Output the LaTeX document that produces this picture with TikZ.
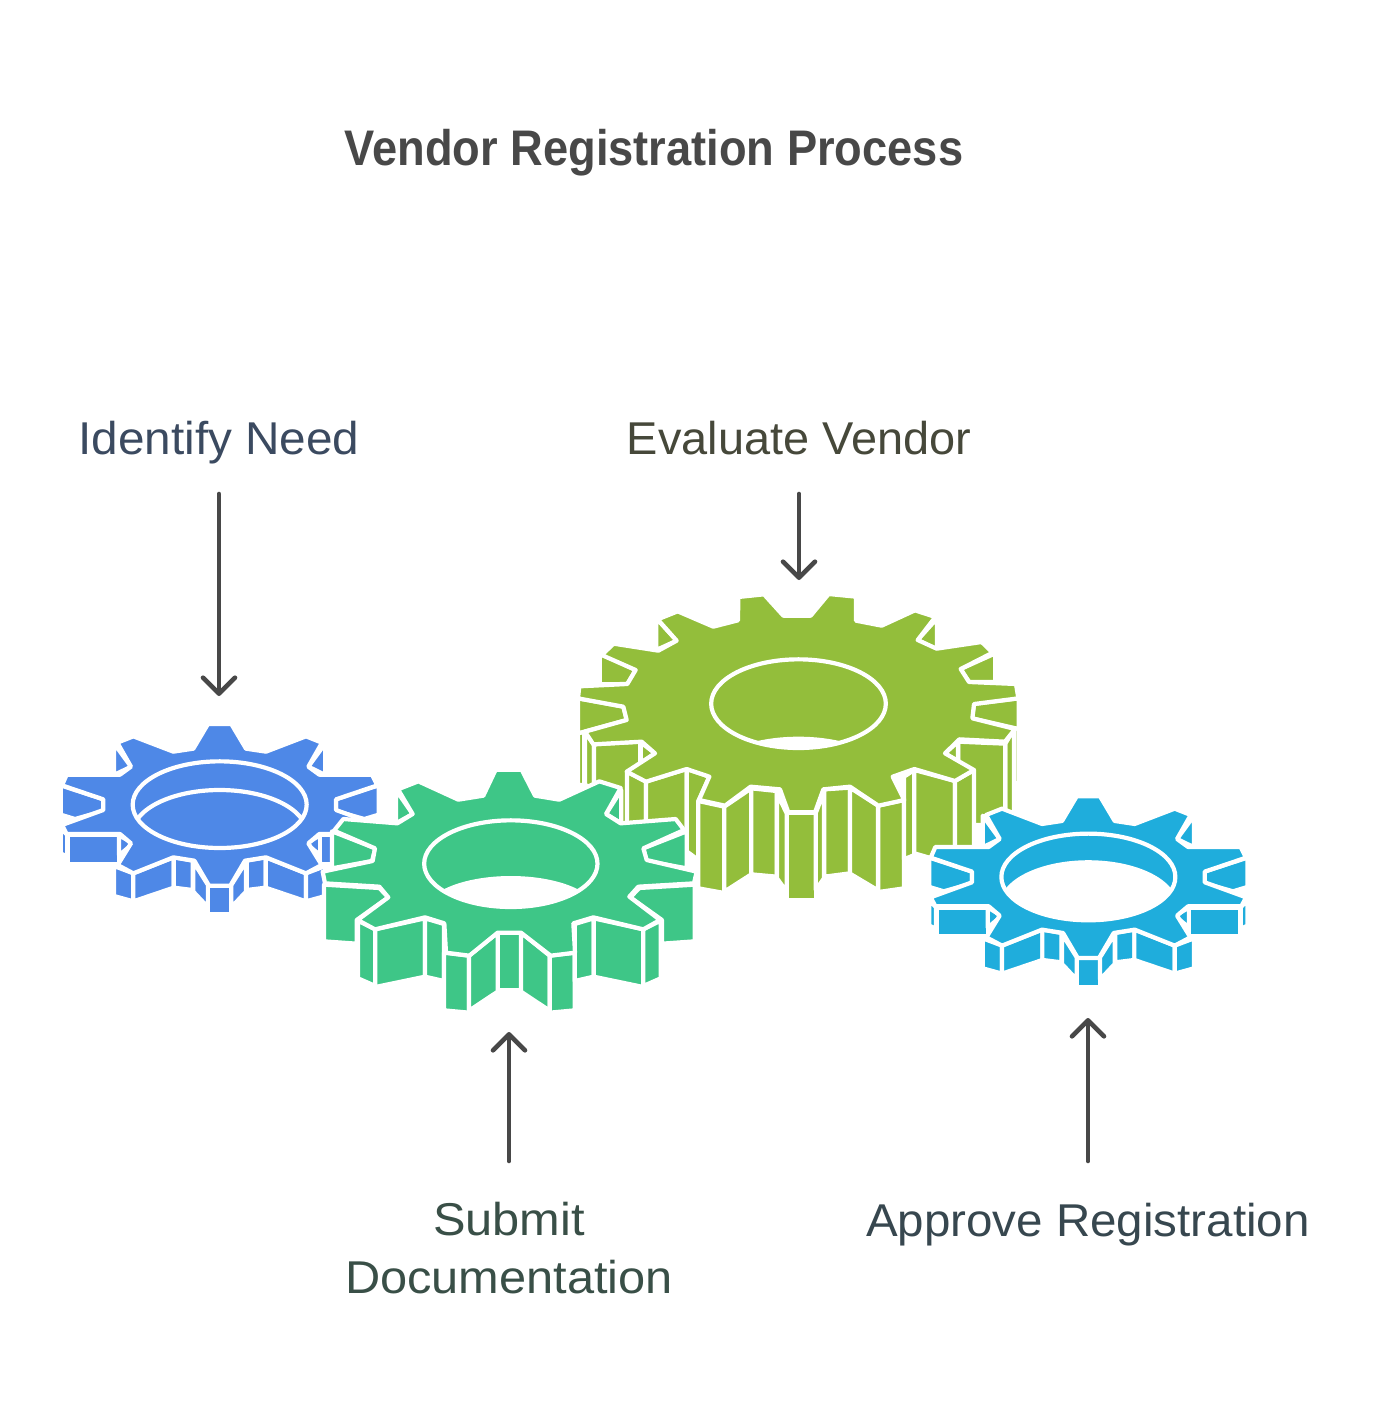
\documentclass[tikz,border=0pt]{standalone}
\usepackage{fontspec}
\setmainfont{Liberation Sans}
\usetikzlibrary{arrows.meta}
\definecolor{cblue}{HTML}{4E88E7}
\definecolor{cgreen}{HTML}{3EC687}
\definecolor{colive}{HTML}{93BE3B}
\definecolor{ccyan}{HTML}{1FADDC}
\definecolor{cdark}{HTML}{484848}
\definecolor{tneedc}{HTML}{3B4A60}
\definecolor{tevalc}{HTML}{46483A}
\definecolor{tsubc}{HTML}{394F47}
\definecolor{tapprc}{HTML}{37474F}
\tikzset{
  gw/.style={draw=white,line width=2.1pt,line join=round,fill=gearcol},
  ring/.style={draw=white,line width=2.1pt},
  flow/.style={draw=cdark,line width=2.3pt,line cap=round,-{Straight Barb[length=8pt,width=16pt,round,line width=2.3pt]}},
  lab/.style={inner sep=0pt,anchor=base,align=center},
}
\newcommand{\labfont}[1]{\fontsize{23}{29}\selectfont\addfontfeature{FakeStretch=#1}}
\newcommand{\smallgear}[1]{%
  \path[gw] (192,468)--(250,490)--(250,574)--(192,558)--cycle;
  \path[gw] (250,490)--(371,442)--(371,533)--(250,574)--cycle;
  \path[gw] (371,442)--(428,452)--(428,540)--(371,533)--cycle;
  \path[gw] (430,455)--(474,525)--(474,592)--(430,545)--cycle;
  \path[gw] (474,527)--(544,527)--(544,613)--(474,613)--cycle;
  \path[gw] (544,525)--(588,455)--(588,545)--(544,592)--cycle;
  \path[gw] (590,452)--(647,442)--(647,533)--(590,540)--cycle;
  \path[gw] (647,442)--(768,490)--(768,574)--(647,533)--cycle;
  \path[gw] (768,490)--(826,468)--(826,558)--(768,574)--cycle;
  \path[gw] (192,100)--(243,170)--(192,195)--cycle;
  \path[gw] (826,100)--(775,170)--(826,195)--cycle;
  \path[gw] (32,226)--(160,268)--(160,303)--(75,327)--(32,314)--cycle;
  \path[gw] (986,226)--(858,268)--(858,303)--(943,327)--(986,314)--cycle;
  \path[gw] (32,355)--(52,375)--(52,440)--(32,430)--cycle;
  \path[gw] (54,376)--(207,376)--(207,461)--(54,461)--cycle;
  \path[gw] (207,376)--(250,400)--(207,436)--cycle;
  \path[gw] (811,376)--(768,400)--(811,436)--cycle;
  \path[gw] (811,376)--(964,376)--(964,461)--(811,461)--cycle;
  \path[gw] (986,355)--(966,375)--(966,440)--(986,430)--cycle;
  \path[gw] (474,42)--(544,42)--(588,116)--(648,125)--(768,79)--(816,98)--(775,170)--(808,194)--(966,194)--(982,226)--(858,268)--(858,300)--(982,345)--(968,372)--(808,372)--(775,400)--(815,465)--(768,490)--(648,442)--(585,452)--(541,527)--(477,527)--(433,452)--(370,442)--(250,490)--(203,465)--(243,400)--(210,372)--(50,372)--(36,345)--(160,300)--(160,268)--(36,226)--(50,194)--(210,194)--(243,170)--(202,98)--(250,79)--(370,125)--(430,116)--cycle;
  \begin{scope}
    \clip (509,284) ellipse [x radius=261,y radius=130];
    \path[draw=white,line width=2.1pt,fill=#1] (509,370) ellipse [x radius=261,y radius=130];
  \end{scope}
  \path[ring] (509,284) ellipse [x radius=261,y radius=130];
}
\begin{document}
\begin{tikzpicture}[x=0.5pt,y=-0.5pt]
\useasboundingbox (0,0) rectangle (1380,1424);
\fill[white] (0,0) rectangle (1380,1424);

% blue gear
\colorlet{gearcol}{cblue}
\begin{scope}[shift={(50,710)},scale=0.33333]
  \smallgear{cblue}
\end{scope}

% olive gear
\colorlet{gearcol}{colive}
\begin{scope}[shift={(570,585)},scale=0.33333]
  \path[gw] (24,445)--(43,440)--(43,600)--(24,600)--cycle;
  \path[gw] (45,440)--(72,480)--(72,610)--(45,600)--cycle;
  \path[gw] (72,478)--(211,470)--(211,720)--(72,720)--cycle;
  \path[gw] (212,472)--(255,505)--(212,535)--cycle;
  \path[gw] (1332,432)--(1346,425)--(1346,595)--(1332,595)--cycle;
  \path[gw] (1306,476)--(1332,432)--(1332,680)--(1306,690)--cycle;
  \path[gw] (1165,470)--(1306,476)--(1306,720)--(1165,720)--cycle;
  \path[gw] (1164,470)--(1125,505)--(1164,530)--cycle;
  \path[gw] (171,560)--(228,590)--(228,740)--(171,820)--cycle;
  \path[gw] (228,590)--(350,552)--(350,799)--(228,837)--cycle;
  \path[gw] (350,552)--(418,575)--(385,648)--(385,825)--(350,799)--cycle;
  \path[gw] (385,648)--(463,665)--(463,924)--(385,910)--cycle;
  \path[gw] (463,665)--(544,610)--(544,868)--(463,920)--cycle;
  \path[gw] (544,610)--(620,618)--(620,875)--(544,868)--cycle;
  \path[gw] (621,625)--(650,685)--(650,920)--(621,880)--cycle;
  \path[gw] (651,685)--(737,685)--(737,944)--(651,944)--cycle;
  \path[gw] (737,685)--(762,620)--(762,880)--(737,915)--cycle;
  \path[gw] (763,613)--(840,608)--(840,865)--(763,875)--cycle;
  \path[gw] (840,608)--(924,662)--(924,916)--(840,866)--cycle;
  \path[gw] (925,662)--(1002,645)--(1002,910)--(925,921)--cycle;
  \path[gw] (1002,575)--(1033,555)--(1033,810)--(1002,823)--cycle;
  \path[gw] (1033,555)--(1155,588)--(1155,840)--(1033,805)--cycle;
  \path[gw] (1155,588)--(1212,555)--(1212,810)--(1155,840)--cycle;
  \path[gw] (1101,100)--(1043,165)--(1101,195)--cycle;
  \path[gw] (259,100)--(320,167)--(259,195)--cycle;
  \path[gw] (1276,205)--(1172,252)--(1197,291)--(1276,291)--cycle;
  \path[gw] (89,205)--(197,255)--(172,297)--(89,298)--cycle;
  \path[gw] (1346,340)--(1346,432)--(1207,400)--(1212,357)--cycle;
  \path[gw] (24,340)--(24,445)--(170,405)--(160,365)--cycle;
  \path[gw] (505,36)--(582,28)--(640,92)--(722,92)--(776,27)--(858,35)--(858,107)--(935,122)--(1035,76)--(1096,96)--(1043,165)--(1100,191)--(1235,171)--(1268,203)--(1172,252)--(1197,291)--(1338,297)--(1345,340)--(1212,357)--(1207,400)--(1335,432)--(1305,470)--(1168,463)--(1125,505)--(1212,555)--(1155,588)--(1033,552)--(968,575)--(1003,645)--(925,662)--(840,605)--(760,613)--(735,682)--(655,682)--(630,613)--(542,605)--(465,662)--(387,645)--(418,575)--(350,552)--(228,590)--(170,560)--(255,505)--(215,470)--(70,478)--(45,440)--(170,405)--(160,365)--(24,340)--(28,304)--(172,297)--(197,255)--(95,210)--(131,176)--(265,197)--(320,167)--(263,103)--(323,79)--(430,125)--(504,106)--cycle;
  \begin{scope}
    \clip (685.5,356) ellipse [x radius=262,y radius=133];
    \fill[white] (685.5,567) ellipse [x radius=262,y radius=112];
  \end{scope}
  \path[ring] (685.5,356) ellipse [x radius=262,y radius=133];
\end{scope}

% green gear
\colorlet{gearcol}{cgreen}
\begin{scope}[shift={(310,760)},scale=0.33333]
  \path[gw] (42,374)--(208,384)--(235,412)--(140,480)--(140,551)--(42,544)--cycle;
  \path[gw] (1154,374)--(988,384)--(961,412)--(1056,480)--(1056,551)--(1154,544)--cycle;
  \path[gw] (66,214)--(196,265)--(186,303)--(66,325)--cycle;
  \path[gw] (1130,214)--(1000,265)--(1010,303)--(1130,325)--cycle;
  \path[gw] (258,90)--(308,162)--(258,190)--cycle;
  \path[gw] (934,90)--(888,162)--(934,190)--cycle;
  \path[gw] (144,482)--(196,508)--(196,678)--(144,655)--cycle;
  \path[gw] (196,508)--(345,475)--(345,650)--(196,681)--cycle;
  \path[gw] (345,475)--(402,492)--(402,663)--(345,650)--cycle;
  \path[gw] (402,578)--(477,587)--(477,758)--(402,751)--cycle;
  \path[gw] (477,587)--(563,518)--(563,695)--(477,752)--cycle;
  \path[gw] (563,518)--(633,518)--(633,691)--(563,691)--cycle;
  \path[gw] (633,518)--(719,587)--(719,752)--(633,695)--cycle;
  \path[gw] (719,587)--(794,578)--(794,751)--(719,758)--cycle;
  \path[gw] (794,492)--(851,475)--(851,650)--(794,663)--cycle;
  \path[gw] (851,475)--(1000,508)--(1000,681)--(851,650)--cycle;
  \path[gw] (1000,508)--(1052,482)--(1052,655)--(1000,678)--cycle;
  \path[gw] (557,29)--(635,29)--(675,107)--(748,119)--(868,64)--(932,84)--(888,162)--(932,190)--(1097,177)--(1122,210)--(1000,265)--(1010,300)--(1160,335)--(1152,370)--(985,380)--(958,410)--(1050,480)--(1000,508)--(850,472)--(790,490)--(795,578)--(722,587)--(633,518)--(563,518)--(478,587)--(408,578)--(403,490)--(345,472)--(195,508)--(143,480)--(235,412)--(208,380)--(45,370)--(38,335)--(188,303)--(195,265)--(72,212)--(100,177)--(262,190)--(308,162)--(264,88)--(325,64)--(445,119)--(520,107)--cycle;
  \begin{scope}
    \clip (602.5,311) ellipse [x radius=260,y radius=130];
    \fill[white] (602.5,457) ellipse [x radius=260,y radius=109];
  \end{scope}
  \path[ring] (602.5,311) ellipse [x radius=260,y radius=130];
\end{scope}

% cyan gear
\colorlet{gearcol}{ccyan}
\begin{scope}[shift={(918.7,782.3)},scale=0.33333]
  \smallgear{white}
\end{scope}

% texts
\node[font=\fontsize{25}{30}\selectfont\bfseries\addfontfeature{FakeStretch=0.905},text=cdark,inner sep=0pt,anchor=base] (title) at (654,165) {Vendor Registration Process};
\node[lab,font=\labfont{1.037},text=tneedc] (tneed) at (219,454) {Identify Need};
\node[lab,font=\labfont{1.02},text=tevalc] (teval) at (799,454) {Evaluate Vendor};
\node[lab,font=\labfont{1.033},text=tapprc] (tappr) at (1088,1236) {Approve Registration};
\node[font=\labfont{1.06},inner sep=0pt,align=center,text=tsubc] (tsub) at (509,1248) {Submit\\Documentation};

% arrow ends
\coordinate (gneed) at (219,696);
\coordinate (geval) at (799,580);
\coordinate (gsub) at (509,1032);
\coordinate (gappr) at (1088,1018);
\draw[flow] (tneed.south |- 219,494) -- (gneed);
\draw[flow] (teval.south |- 799,494) -- (geval);
\draw[flow] (tsub.north |- 509,1161) -- (gsub);
\draw[flow] (tappr.north |- 1088,1161) -- (gappr);
\end{tikzpicture}
\end{document}
